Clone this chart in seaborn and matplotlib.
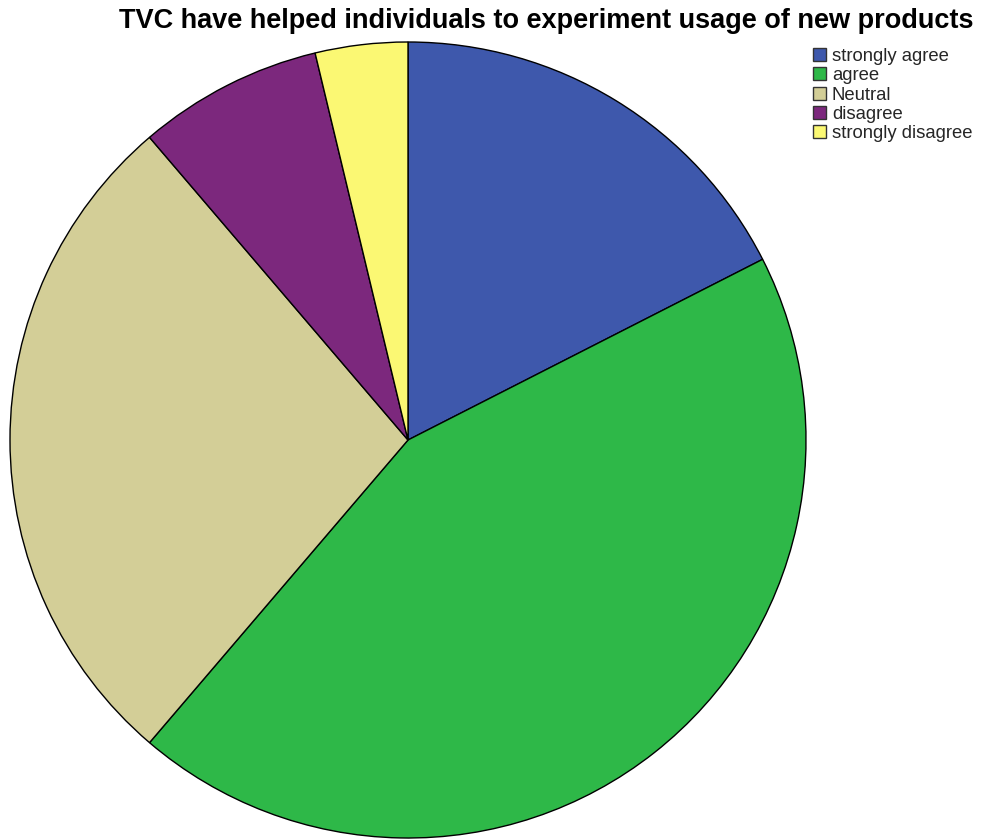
import matplotlib
matplotlib.use("Agg")
import matplotlib.pyplot as plt
import seaborn as sns
from matplotlib.patches import Patch

# Response counts per answer
categories = ["strongly agree", "agree", "Neutral", "disagree", "strongly disagree"]
counts = [14, 35, 22, 6, 3]
hex_colors = ["#3E58AC", "#2EB848", "#D3CE97", "#7C287D", "#FBF873"]

sns.set_theme(style="white")
plt.rcParams["font.family"] = ["Liberation Sans", "DejaVu Sans"]
palette = sns.color_palette(hex_colors)

W, H = 982, 839
fig = plt.figure(figsize=(W / 100, H / 100), dpi=100)
fig.patch.set_facecolor("white")

# Pie axes: centre (408, 440) px, radius 398 px
cx, cy, r = 408, 440, 398
ax = fig.add_axes([(cx - r) / W, (H - cy - r) / H, 2 * r / W, 2 * r / H])
ax.pie(counts, colors=palette, startangle=90, counterclock=False,
       radius=1, wedgeprops=dict(edgecolor="black", linewidth=1.0))
ax.set_xlim(-1, 1)
ax.set_ylim(-1, 1)
ax.set_aspect("equal")
ax.axis("off")

fig.text(546 / W, 1 - 21 / H,
         "TVC have helped individuals to experiment usage of new products",
         ha="center", va="center", fontsize=19.5, fontweight="bold", color="black")

handles = [Patch(facecolor=c, edgecolor="#333333", linewidth=1.0) for c in palette]
fig.legend(handles, categories, loc="upper left",
           bbox_to_anchor=(813 / W, 1 - 48 / H), frameon=False,
           fontsize=13.3, handlelength=0.72, handleheight=0.72,
           handletextpad=0.3, labelspacing=0.12, borderpad=0.0,
           borderaxespad=0.0)

fig.savefig("out.png", dpi=100, facecolor="white")
